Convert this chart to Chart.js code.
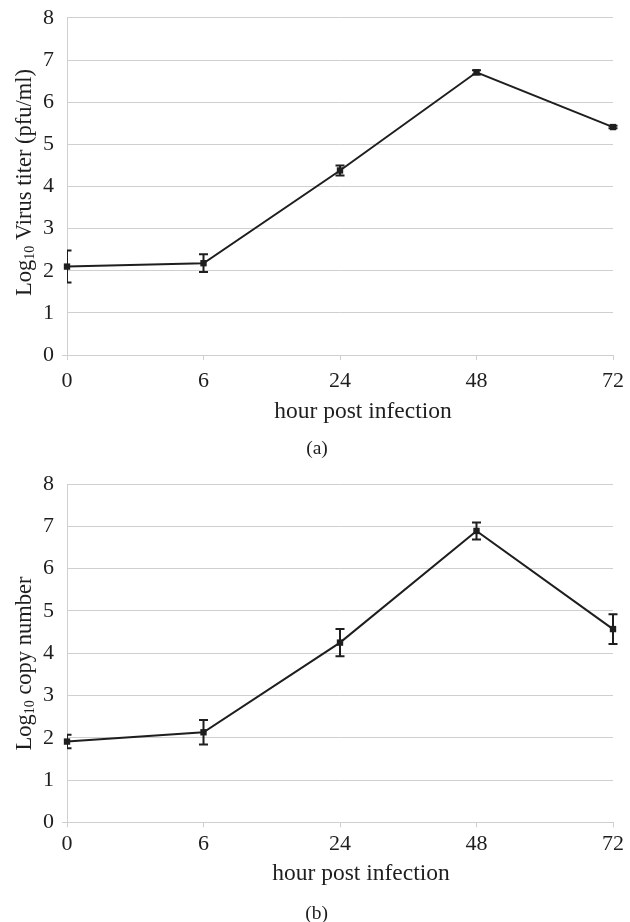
<!DOCTYPE html>
<html>
<head>
<meta charset="utf-8">
<script src="https://cdn.jsdelivr.net/npm/chart.js@4"></script>
<style>
    body { margin: 0; background: #ffffff; }
    .box { width: 630px; height: 461px; position: relative; }
    canvas { display: block; }
</style>
</head>
<body>
<div class="box"><canvas id="chartA"></canvas></div>
<div class="box"><canvas id="chartB"></canvas></div>
<script>
const hours = ['0', '6', '24', '48', '72'];

// (a) virus titer, log10 pfu/ml
const titerMeans = [2.10, 2.18, 4.38, 6.71, 5.41];
const titerErrors = [0.38, 0.21, 0.12, 0.05, 0.03];

// (b) copy number, log10
const copyMeans = [1.91, 2.13, 4.25, 6.89, 4.57];
const copyErrors = [0.16, 0.29, 0.32, 0.20, 0.35];

const yMin = 0;
const yMax = 8;

const serif = '"Liberation Serif", "Times New Roman", serif';
const ink = '#1e1e1e';
const gridColor = '#cfcfcf';

// draws the +/- error bars, clipped to the plot area
const errorBarPlugin = {
    id: 'errorBars',
    afterDatasetsDraw(chart, args, opts) {
        const ctx = chart.ctx;
        const area = chart.chartArea;
        const yScale = chart.scales.y;
        const meta = chart.getDatasetMeta(0);
        const means = chart.data.datasets[0].data;
        ctx.save();
        ctx.beginPath();
        ctx.rect(area.left, 0, chart.width - area.left, chart.height);
        ctx.clip();
        ctx.strokeStyle = ink;
        ctx.lineWidth = 2;
        meta.data.forEach((pt, i) => {
            const top = yScale.getPixelForValue(means[i] + opts.errors[i]);
            const bottom = yScale.getPixelForValue(means[i] - opts.errors[i]);
            ctx.beginPath();
            ctx.moveTo(pt.x, top);
            ctx.lineTo(pt.x, bottom);
            ctx.moveTo(pt.x - 4.5, top);
            ctx.lineTo(pt.x + 4.5, top);
            ctx.moveTo(pt.x - 4.5, bottom);
            ctx.lineTo(pt.x + 4.5, bottom);
            ctx.stroke();
        });
        ctx.restore();
    }
};

// axis titles and the panel caption; the y title has "10" as a subscript
const panelTextPlugin = {
    id: 'panelText',
    afterDraw(chart, args, opts) {
        const ctx = chart.ctx;
        const bigFont = '22.5px ' + serif;
        const smallFont = '14px ' + serif;
        ctx.save();
        ctx.fillStyle = ink;
        ctx.textBaseline = 'middle';

        ctx.textAlign = 'center';
        ctx.font = '23.5px ' + serif;
        ctx.fillText('hour post infection', opts.xTitle.x, opts.xTitle.y);
        ctx.font = '19.5px ' + serif;
        ctx.fillText(opts.caption.text, opts.caption.x, opts.caption.y);

        ctx.textAlign = 'left';
        ctx.font = bigFont;
        const w1 = ctx.measureText('Log').width;
        const w3 = ctx.measureText(opts.yTitle.rest).width;
        ctx.font = smallFont;
        const w2 = ctx.measureText('10').width;
        const total = w1 + w2 + w3;
        ctx.translate(opts.yTitle.x, opts.yTitle.y);
        ctx.rotate(-Math.PI / 2);
        let x = -total / 2;
        ctx.font = bigFont;
        ctx.fillText('Log', x, 0);
        x += w1;
        ctx.font = smallFont;
        ctx.fillText('10', x, 5);
        x += w2;
        ctx.font = bigFont;
        ctx.fillText(opts.yTitle.rest, x, 0);
        ctx.restore();
    }
};

function drawPanel(canvasId, means, errors, text, spacing) {
    const ctx = document.getElementById(canvasId).getContext('2d');
    return new Chart(ctx, {
        type: 'line',
        data: {
            labels: hours,
            datasets: [{
                data: means,
                borderColor: ink,
                borderWidth: 2,
                backgroundColor: ink,
                pointStyle: 'rect',
                pointRadius: 4.5,
                pointBorderWidth: 0,
                tension: 0,
                clip: false
            }]
        },
        options: {
            responsive: true,
            maintainAspectRatio: false,
            animation: false,
            layout: { padding: { left: 35, right: 17, top: spacing.top, bottom: spacing.bottom } },
            plugins: {
                legend: { display: false },
                tooltip: { enabled: false },
                errorBars: { errors: errors },
                panelText: text
            },
            scales: {
                x: {
                    offset: false,
                    grid: { drawOnChartArea: false, drawTicks: true, tickLength: 5, color: gridColor },
                    border: { display: true, color: gridColor },
                    ticks: { color: ink, padding: 5, font: { family: serif, size: 22, lineHeight: spacing.tickLine } }
                },
                y: {
                    min: yMin,
                    max: yMax,
                    grid: {
                        color: gridColor,
                        tickLength: 5,
                        // only the zero line pokes out left of the axis
                        tickColor: (c) => (c.tick && c.tick.value === 0 ? gridColor : 'rgba(0,0,0,0)')
                    },
                    border: { display: true, color: gridColor },
                    ticks: { stepSize: 1, color: ink, padding: 8, font: { family: serif, size: 22, lineHeight: 0.9 } }
                }
            }
        },
        plugins: [errorBarPlugin, panelTextPlugin]
    });
}

drawPanel('chartA', titerMeans, titerErrors, {
    xTitle: { x: 363, y: 412 },
    caption: { text: '(a)', x: 317, y: 449 },
    yTitle: { rest: ' Virus titer (pfu/ml)', x: 25, y: 182.5 }
}, { top: 0, bottom: 59, tickLine: 1.45 });

drawPanel('chartB', copyMeans, copyErrors, {
    xTitle: { x: 361, y: 413 },
    caption: { text: '(b)', x: 316.5, y: 453 },
    yTitle: { rest: ' copy number', x: 25, y: 202.5 }
}, { top: 23, bottom: 60, tickLine: 1.12 });
</script>
</body>
</html>
